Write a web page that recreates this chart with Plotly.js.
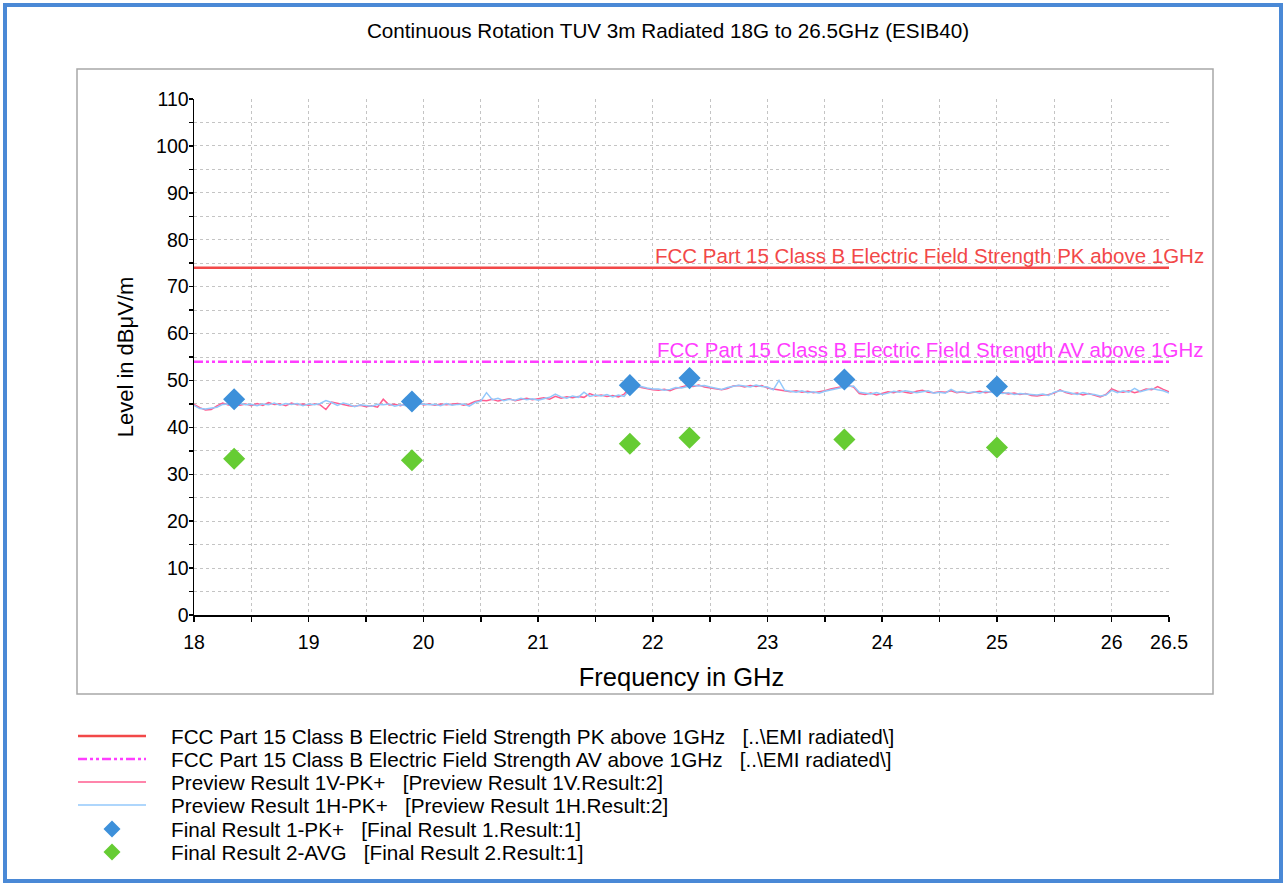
<!DOCTYPE html>
<html>
<head>
<meta charset="utf-8">
<script src="https://cdn.plot.ly/plotly-3.0.1.min.js"></script>
<style>html,body{margin:0;padding:0;background:#fff;}#chart{width:1285px;height:886px;}</style>
</head>
<body>
<div id="chart"></div>
<script>
// ---- data ----
const freqGHz = [
18,18.05,18.1,18.15,18.2,18.25,18.3,18.35,18.4,18.45,18.5,
18.55,18.6,18.65,18.7,18.75,18.8,18.85,18.9,18.95,19,
19.05,19.1,19.15,19.2,19.25,19.3,19.35,19.4,19.45,19.5,
19.55,19.6,19.65,19.7,19.75,19.8,19.85,19.9,19.95,20,
20.05,20.1,20.15,20.2,20.25,20.3,20.35,20.4,20.45,20.5,
20.55,20.6,20.65,20.7,20.75,20.8,20.85,20.9,20.95,21,
21.05,21.1,21.15,21.2,21.25,21.3,21.35,21.4,21.45,21.5,
21.55,21.6,21.65,21.7,21.75,21.8,21.85,21.9,21.95,22,
22.05,22.1,22.15,22.2,22.25,22.3,22.35,22.4,22.45,22.5,
22.55,22.6,22.65,22.7,22.75,22.8,22.85,22.9,22.95,23,
23.05,23.1,23.15,23.2,23.25,23.3,23.35,23.4,23.45,23.5,
23.55,23.6,23.65,23.7,23.75,23.8,23.85,23.9,23.95,24,
24.05,24.1,24.15,24.2,24.25,24.3,24.35,24.4,24.45,24.5,
24.55,24.6,24.65,24.7,24.75,24.8,24.85,24.9,24.95,25,
25.05,25.1,25.15,25.2,25.25,25.3,25.35,25.4,25.45,25.5,
25.55,25.6,25.65,25.7,25.75,25.8,25.85,25.9,25.95,26,
26.05,26.1,26.15,26.2,26.25,26.3,26.35,26.4,26.45,26.5
];
const preview1V = [
44.9,44.2,43.7,43.8,44.6,45.2,44.8,45.1,44.7,45.0,44.6,
45.1,44.7,45.3,44.9,45.0,44.6,45.2,44.8,45.0,44.7,
45.0,44.8,43.8,45.4,45.1,44.9,44.6,44.5,44.7,44.4,
44.6,44.3,46.0,44.8,44.9,44.6,45.0,44.7,45.4,44.8,
45.0,44.7,45.0,44.8,44.9,45.1,44.7,45.0,45.5,45.8,
45.7,46.0,45.6,45.9,46.1,45.7,46.0,46.2,45.9,46.1,
46.3,46.0,46.6,46.2,46.5,46.3,46.6,46.4,47.2,46.7,
46.9,46.6,46.8,46.5,47.1,48.4,48.8,48.5,48.2,48.0,
47.9,48.1,47.8,48.3,48.6,48.9,48.7,49.0,48.6,48.4,
48.2,48.0,48.3,48.8,48.9,48.6,48.9,48.7,48.9,48.4,
48.2,48.0,47.8,47.6,47.8,47.5,47.7,47.4,47.6,47.8,
48.2,48.4,48.6,48.9,48.6,47.2,47.0,47.3,46.9,47.2,
47.6,47.4,47.8,47.5,47.3,47.7,47.9,47.5,47.4,47.6,
47.5,47.8,47.4,47.6,47.3,47.5,47.7,47.4,47.6,47.3,
47.4,47.1,47.3,47.0,47.2,46.8,46.7,46.9,47.0,47.3,
48.0,47.4,47.1,47.3,46.9,47.2,46.8,46.5,47.0,48.2,
47.7,47.5,47.8,47.4,47.7,48.2,48.0,48.7,48.1,47.6
];
const preview1H = [
44.7,44.0,43.9,44.1,44.3,44.9,45.0,44.6,45.1,44.8,44.9,
44.6,45.0,44.8,45.2,44.7,45.1,44.9,45.1,44.6,45.0,
44.8,45.1,45.7,45.3,44.7,45.2,44.9,44.4,44.8,44.6,
44.5,44.9,44.8,45.0,44.5,44.8,44.6,45.1,44.9,45.0,
44.8,44.9,44.6,45.1,44.7,44.9,45.0,44.5,45.3,45.6,
47.4,45.9,46.2,45.7,46.0,45.8,46.2,45.9,46.1,45.8,
46.1,46.4,47.1,46.5,46.2,46.7,46.4,47.5,46.6,46.9,
46.7,47.0,46.5,46.9,46.6,48.1,48.6,48.7,48.4,48.2,
48.2,47.9,48.1,48.5,48.4,48.7,49.0,48.8,48.9,48.6,
48.3,48.1,48.5,48.7,49.0,48.8,48.6,49.0,48.7,48.6,
48.0,50.0,47.9,47.7,47.5,47.8,47.4,47.6,47.3,47.7,
48.0,48.3,48.5,48.7,48.8,47.5,47.3,47.1,47.4,47.0,
47.3,47.7,47.5,47.8,47.6,47.4,47.6,47.8,47.3,47.5,
47.3,48.1,47.5,47.7,47.4,47.6,47.3,47.7,47.5,47.4,
47.2,47.4,47.0,47.2,47.1,47.0,46.9,47.1,46.8,47.5,
47.8,47.6,47.3,47.0,47.4,47.1,47.0,46.7,46.9,47.9,
47.4,47.8,47.5,48.3,47.6,47.9,48.3,48.0,47.8,47.3
];
const limitFreq = [18, 26.5];
const limitPK = [74, 74];
const limitAV = [54, 54];
const finalFreq = [18.35, 19.9, 21.8, 22.32, 23.67, 25.0];
const finalPK = [46.0, 45.5, 49.0, 50.5, 50.2, 48.7];
const finalAVG = [33.3, 33.0, 36.5, 37.8, 37.4, 35.7];
const xTickVals = [18,19,20,21,22,23,24,25,26,26.5];
const xTickText = ["18","19","20","21","22","23","24","25","26","26.5"];
const limitNamePK = "FCC Part 15 Class B Electric Field Strength PK above 1GHz";
const limitNameAV = "FCC Part 15 Class B Electric Field Strength AV above 1GHz";
const sp = "\u00a0\u00a0\u00a0";
const legendNames = [
  limitNamePK + sp + "[..\\EMI radiated\\]",
  limitNameAV + sp + "[..\\EMI radiated\\]",
  "Preview Result 1V-PK+" + sp + "[Preview Result 1V.Result:2]",
  "Preview Result 1H-PK+" + sp + "[Preview Result 1H.Result:2]",
  "Final Result 1-PK+" + sp + "[Final Result 1.Result:1]",
  "Final Result 2-AVG" + sp + "[Final Result 2.Result:1]"
];

// ---- styles ----
const colPK = '#f24848', colAV = '#ff3dff', colV = '#ff5c8f', colH = '#93c8fb';
const colFinPK = '#3d90da', colFinAV = '#66cc33';
const dashAV = '9px,3px,3px,3px,3px,3px';

// ---- geometry helpers (page px -> paper) ----
const W = 1285, H = 886;
const M = {l:194, r:116, t:99, b:271};
const PW = W - M.l - M.r, PH = H - M.t - M.b;
const px = x => (x - M.l) / PW;
const py = y => (H - M.b - y) / PH;

const FONT = "Liberation Sans, Arial, sans-serif";

const traces = [
  {x: limitFreq, y: limitPK, mode:'lines', name: legendNames[0], line:{color:colPK, width:2.5}},
  {x: limitFreq, y: limitAV, mode:'lines', name: legendNames[1], line:{color:colAV, width:2.5, dash:dashAV}},
  {x: freqGHz, y: preview1V, mode:'lines', name: legendNames[2], line:{color:colV, width:1.5}},
  {x: freqGHz, y: preview1H, mode:'lines', name: legendNames[3], line:{color:colH, width:1.5}},
  {x: finalFreq, y: finalPK, mode:'markers', name: legendNames[4], marker:{symbol:'diamond', size:17, color:colFinPK}},
  {x: finalFreq, y: finalAVG, mode:'markers', name: legendNames[5], marker:{symbol:'diamond', size:17, color:colFinAV}}
];

const gridStyle = {gridcolor:'#c4c4c4', griddash:'dot', gridwidth:1};

// ---- legend (drawn as layout items below the plot panel) ----
const legRows = [736, 759, 782, 805, 829, 852];
const legendShapes = [];
const legendAnnotations = [];
const legendStyles = [
  {kind:'line', color:colPK, width:2.5, dash:'solid'},
  {kind:'line', color:colAV, width:2.5, dash:dashAV},
  {kind:'line', color:colV, width:1.3, dash:'solid'},
  {kind:'line', color:colH, width:1.3, dash:'solid'},
  {kind:'diamond', color:colFinPK},
  {kind:'diamond', color:colFinAV}
];
legendNames.forEach((nm, i) => {
  const st = legendStyles[i];
  const yy = py(legRows[i]);
  if (st.kind === 'line') {
    legendShapes.push({type:'line', xref:'paper', yref:'paper', x0:px(78), x1:px(146), y0:yy, y1:yy,
                       line:{color:st.color, width:st.width, dash:st.dash}});
  } else {
    legendShapes.push({type:'path', xref:'paper', yref:'paper', xsizemode:'pixel', ysizemode:'pixel',
                       xanchor:px(112), yanchor:yy, path:'M0,8.5 L8.5,0 L0,-8.5 L-8.5,0 Z',
                       fillcolor:st.color, line:{width:0}});
  }
  legendAnnotations.push({xref:'paper', yref:'paper', x:px(169), y:yy, xanchor:'left', yanchor:'middle',
                          text:nm, showarrow:false, font:{family:FONT, size:20.7, color:'#000'}});
});

const layout = {
  width: W, height: H,
  margin: M,
  paper_bgcolor:'#ffffff', plot_bgcolor:'#ffffff',
  font:{family:FONT, size:18, color:'#000'},
  title:{text:"Continuous Rotation TUV 3m Radiated 18G to 26.5GHz (ESIB40)",
         font:{family:FONT, size:20.7, color:'#000'},
         xref:'container', yref:'container', x:668/W, xanchor:'center', y:1-31/H, yanchor:'middle'},
  xaxis:{range:[18,26.5], tickmode:'array', tickvals:xTickVals, ticktext:xTickText,
         showline:true, linecolor:'#000', linewidth:1.5, ticks:'outside', ticklen:5, tickcolor:'#000', tickwidth:1.5,
         showgrid:true, ...gridStyle, zeroline:false, ticklabelstandoff:4,
         tickfont:{family:FONT, size:19.5},
         minor:{tickmode:'linear', tick0:18, dtick:0.5, ticks:'outside', ticklen:5, tickcolor:'#000', tickwidth:1.5, showgrid:true, ...gridStyle},
         title:{text:"Frequency in GHz", font:{family:FONT, size:25.5}, standoff:16}},
  yaxis:{range:[0,110], tickmode:'linear', tick0:0, dtick:10,
         showline:true, linecolor:'#000', linewidth:1.5, ticks:'outside', ticklen:4, tickcolor:'#000', tickwidth:1.5,
         showgrid:true, ...gridStyle, zeroline:false, ticklabelstandoff:-4,
         tickfont:{family:FONT, size:19.5},
         minor:{tickmode:'linear', tick0:0, dtick:5, ticks:'outside', ticklen:4, tickcolor:'#000', tickwidth:1.5, showgrid:true, ...gridStyle},
         title:{text:"Level in dBμV/m", font:{family:FONT, size:22}, standoff:16}},
  showlegend:false,
  annotations:[
    {xref:'paper', yref:'y', x:px(1206), y:limitPK[0], xanchor:'right', yanchor:'middle', yshift:12,
     text:limitNamePK, showarrow:false, font:{family:FONT, size:20.5, color:colPK}},
    {xref:'paper', yref:'y', x:px(1206), y:limitAV[0], xanchor:'right', yanchor:'middle', yshift:12,
     text:limitNameAV, showarrow:false, font:{family:FONT, size:20.5, color:colAV}},
    ...legendAnnotations
  ],
  shapes:[
    {type:'rect', xref:'paper', yref:'paper', x0:px(77), x1:px(1213), y0:py(694), y1:py(69),
     line:{color:'#a8a8a8', width:1.5}, layer:'below'},
    {type:'rect', xref:'paper', yref:'paper', x0:px(5), x1:px(1281), y0:py(881), y1:py(5),
     line:{color:'#4a89d6', width:4}, layer:'below'},
    ...legendShapes
  ]
};

Plotly.newPlot('chart', traces, layout, {displayModeBar:false, staticPlot:true});
</script>
</body>
</html>
